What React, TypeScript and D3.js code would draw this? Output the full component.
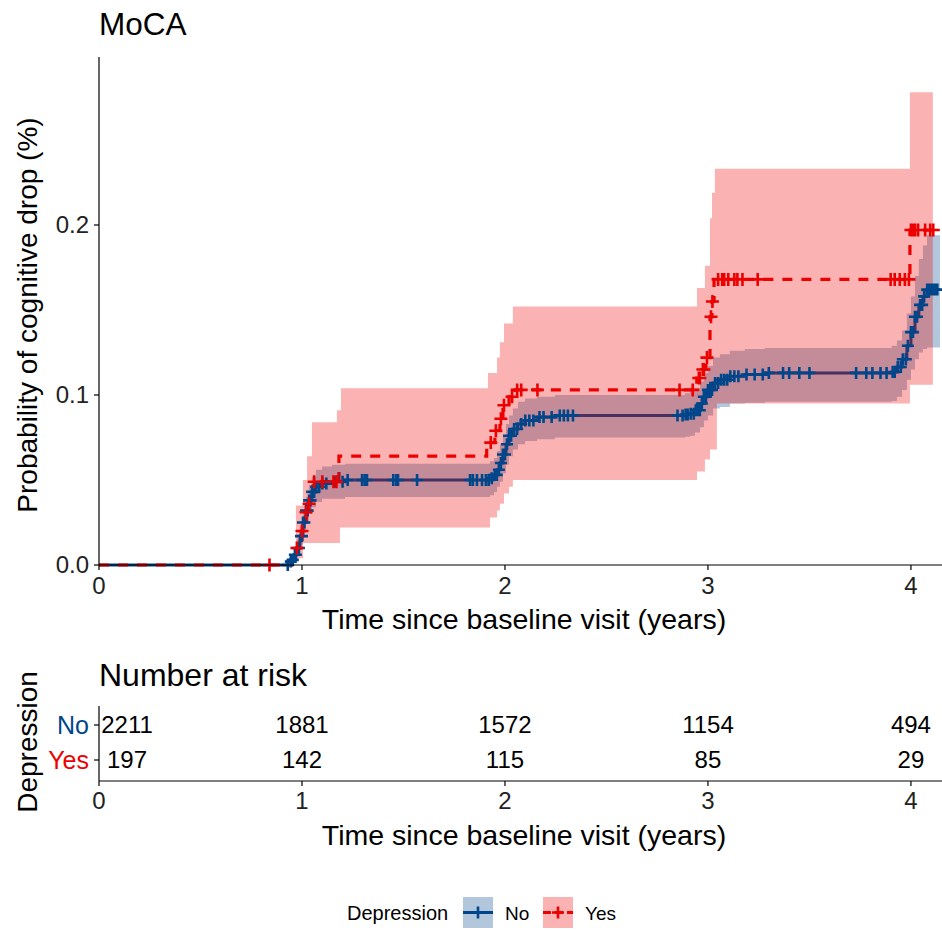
import React from 'react';
import * as d3 from 'd3';

// ---------- DATA ----------
const groups = ['No', 'Yes'];
const colors = ['#00468B', '#ED0000'];

// Group "No": step knots (time, cumulative event prob, lower, upper)
const noTimes = [0, 0.931, 0.946, 0.961, 0.975, 0.99, 1.005, 1.02, 1.034, 1.049, 1.069, 1.099, 1.148, 1.212,
  1.926, 1.946, 1.961, 1.975, 1.99, 2.005, 2.02, 2.039, 2.064, 2.099, 2.158, 2.246,
  2.887, 2.911, 2.936, 2.961, 2.98, 3.0, 3.025, 3.059, 3.108, 3.182, 3.281,
  3.906, 3.931, 3.956, 3.98, 4.0, 4.02, 4.039, 4.059, 4.079];
const noEst = [0, 0.002, 0.003, 0.006, 0.01, 0.017, 0.025, 0.032, 0.038, 0.043, 0.046, 0.048, 0.049, 0.05,
  0.051, 0.053, 0.056, 0.06, 0.065, 0.071, 0.076, 0.08, 0.083, 0.085, 0.087, 0.088,
  0.0885, 0.089, 0.091, 0.095, 0.099, 0.103, 0.107, 0.109, 0.111, 0.112, 0.113,
  0.1135, 0.1165, 0.121, 0.129, 0.137, 0.146, 0.153, 0.158, 0.162];
const noLower = [0, 0.0005, 0.001, 0.003, 0.006, 0.012, 0.019, 0.025, 0.03, 0.034, 0.037, 0.039, 0.039, 0.04,
  0.041, 0.043, 0.046, 0.049, 0.054, 0.059, 0.064, 0.068, 0.071, 0.073, 0.074, 0.075,
  0.0755, 0.076, 0.078, 0.081, 0.085, 0.088, 0.092, 0.093, 0.095, 0.0955, 0.096,
  0.0965, 0.099, 0.103, 0.109, 0.115, 0.121, 0.125, 0.127, 0.128];
const noUpper = [0, 0.004, 0.006, 0.01, 0.015, 0.023, 0.032, 0.04, 0.047, 0.052, 0.056, 0.058, 0.059, 0.0595,
  0.061, 0.063, 0.067, 0.071, 0.076, 0.083, 0.088, 0.092, 0.096, 0.098, 0.099, 0.1,
  0.101, 0.102, 0.104, 0.108, 0.113, 0.117, 0.122, 0.124, 0.126, 0.127, 0.1276,
  0.129, 0.132, 0.138, 0.148, 0.158, 0.17, 0.18, 0.188, 0.194];
const noEnd = 4.143;
const noCensor = [0.93, 0.945, 0.955, 0.965, 0.97, 0.98, 0.985, 0.995, 1.0, 1.005, 1.012, 1.02, 1.028, 1.035,
  1.042, 1.05, 1.06, 1.07, 1.085, 1.1, 1.12, 1.163, 1.2, 1.225, 1.296, 1.31, 1.32, 1.45, 1.465, 1.473, 1.567,
  1.828, 1.842, 1.862, 1.887, 1.906, 1.92, 1.935, 1.95, 1.96, 1.97, 1.98, 1.99, 2.0, 2.01, 2.02, 2.03, 2.045,
  2.06, 2.08, 2.1, 2.12, 2.14, 2.17, 2.19, 2.23, 2.27, 2.29, 2.31, 2.335, 2.85, 2.875,
  2.89, 2.9, 2.915, 2.93, 2.94, 2.95, 2.96, 2.97, 2.98, 2.99, 3.0, 3.01, 3.02, 3.035, 3.05, 3.065, 3.08,
  3.095, 3.11, 3.13, 3.15, 3.19, 3.23, 3.27, 3.3, 3.37, 3.4, 3.45, 3.5, 3.73, 3.78, 3.81, 3.85, 3.88, 3.91,
  3.92, 3.935, 3.95, 3.96, 3.975, 3.985, 4.0, 4.01, 4.02, 4.03, 4.045, 4.055, 4.065,
  4.08, 4.09, 4.1, 4.11, 4.12, 4.13];

// Group "Yes"
const yesTimes = [0, 0.95, 0.975, 0.99, 1.0, 1.01, 1.02, 1.03, 1.04, 1.055, 1.182,
  1.91, 1.95, 1.975, 1.99, 2.02, 2.05, 2.945, 2.97, 2.99, 3.01, 3.02, 3.03, 3.995];
const yesEst = [0, 0.005, 0.01, 0.015, 0.02, 0.026, 0.031, 0.036, 0.041, 0.049, 0.064,
  0.072, 0.079, 0.086, 0.094, 0.099, 0.103, 0.11, 0.115, 0.122, 0.146, 0.155, 0.168, 0.197];
const yesEnd = 4.118;
const yesBandTimes = [0.97, 1.005, 1.025, 1.049, 1.172, 1.187, 1.192, 1.916, 1.926, 1.961, 1.975, 1.995,
  2.02, 2.039, 2.946, 2.985, 3.01, 3.02, 3.034, 3.044, 3.995];
const yesLower = [0.004, 0.013, 0.013, 0.013, 0.013, 0.022, 0.022, 0.022, 0.028, 0.032, 0.036, 0.042,
  0.046, 0.05, 0.055, 0.062, 0.068, 0.068, 0.068, 0.095, 0.106];
const yesUpper = [0.035, 0.05, 0.064, 0.084, 0.091, 0.091, 0.104, 0.113, 0.113, 0.122, 0.131, 0.142,
  0.142, 0.152, 0.163, 0.176, 0.204, 0.219, 0.233, 0.233, 0.278];
const yesBandEnd = 4.108;
const yesCensor = [0.84, 0.975, 1.0, 1.02, 1.035, 1.06, 1.1, 1.155, 1.17,
  1.93, 1.955, 1.98, 1.995, 2.035, 2.06, 2.08, 2.16,
  2.86, 2.925, 2.955, 2.96, 2.975, 2.98, 2.995, 3.015, 3.022,
  3.05, 3.07, 3.08, 3.1, 3.13, 3.145, 3.17, 3.245,
  3.9, 3.92, 3.945, 3.97, 3.99, 4.0, 4.01, 4.02, 4.035, 4.07, 4.095, 4.11];

// Risk table
const riskTimes = [0, 1, 2, 3, 4];
const riskNo = [2211, 1881, 1572, 1154, 494];
const riskYes = [197, 142, 115, 85, 29];

const xTicks = [0, 1, 2, 3, 4];
const yTicks = [0, 0.1, 0.2];

// ---------- HELPERS ----------
const FONT = "'Liberation Sans', Arial, Helvetica, sans-serif";

function stepValue(times: number[], vals: number[], t: number) {
  let v = vals[0];
  for (let i = 0; i < times.length; i++) if (times[i] <= t) v = vals[i];
  return v;
}

export default function App() {
  const W = 942, H = 930;
  const x = d3.scaleLinear().domain([0, 4.153]).range([99, 942]);
  const y = d3.scaleLinear().domain([0, 0.2988]).range([565, 57]);

  const line = d3.line<[number, number]>().x(d => x(d[0])).y(d => y(d[1])).curve(d3.curveStepAfter);
  const area = d3.area<[number, number, number]>()
    .x(d => x(d[0])).y0(d => y(d[1])).y1(d => y(d[2])).curve(d3.curveStepAfter);

  const noLine: [number, number][] = noTimes.map((t, i) => [t, noEst[i]] as [number, number]).concat([[noEnd, noEst[noEst.length - 1]]]);
  const yesLine: [number, number][] = yesTimes.map((t, i) => [t, yesEst[i]] as [number, number]).concat([[yesEnd, yesEst[yesEst.length - 1]]]);
  const noBand: [number, number, number][] = noTimes.slice(1).map((t, i) => [t, noLower[i + 1], noUpper[i + 1]] as [number, number, number])
    .concat([[noEnd, noLower[noLower.length - 1], noUpper[noUpper.length - 1]]]);
  const yesBand: [number, number, number][] = yesBandTimes.map((t, i) => [t, yesLower[i], yesUpper[i]] as [number, number, number])
    .concat([[yesBandEnd, yesLower[yesLower.length - 1], yesUpper[yesUpper.length - 1]]]);

  const plus = (cx: number, cy: number, r: number) => `M${cx - r},${cy}h${2 * r}M${cx},${cy - r}v${2 * r}`;
  const noMarks = noCensor.map(t => plus(x(t), y(stepValue(noTimes, noEst, t)), 6)).join('');
  const yesMarks = yesCensor.map(t => plus(x(t), y(stepValue(yesTimes, yesEst, t)), 6.5)).join('');

  // risk table geometry
  const rowY = [725, 760];
  const riskAxisY = 781;
  const riskRows = [riskNo, riskYes];

  return (
    <svg width={W} height={H} style={{ position: 'absolute', left: 0, top: 0, display: 'block', background: '#fff' }}
      fontFamily={FONT}>
      <rect x={0} y={0} width={W} height={H} fill="#fff" />
      {/* title */}
      <text x={99} y={35} fontSize={31.5} fill="#000">MoCA</text>

      {/* curves */}
      <g>
        <path d={line(noLine) || ''} fill="none" stroke={colors[0]} strokeWidth={3} />
        <path d={line(yesLine) || ''} fill="none" stroke={colors[1]} strokeWidth={3.2} strokeDasharray="10,9" />
        <path d={area(noBand) || ''} fill={colors[0]} fillOpacity={0.3} />
        <path d={area(yesBand) || ''} fill={colors[1]} fillOpacity={0.3} />
        <path d={noMarks} fill="none" stroke={colors[0]} strokeWidth={2.6} />
        <path d={yesMarks} fill="none" stroke={colors[1]} strokeWidth={2.6} />
      </g>

      {/* main axes */}
      <line x1={99} x2={99} y1={57} y2={565} stroke="#000" strokeWidth={1.2} />
      <line x1={99} x2={942} y1={565} y2={565} stroke="#000" strokeWidth={1.2} />
      {yTicks.map(v => (
        <g key={'yt' + v}>
          <line x1={94} x2={99} y1={y(v)} y2={y(v)} stroke="#000" strokeWidth={1.2} />
          <text x={89} y={y(v)} dy="0.35em" textAnchor="end" fontSize={24} fill="#222">{d3.format('.1f')(v)}</text>
        </g>
      ))}
      {xTicks.map(v => (
        <g key={'xt' + v}>
          <line x1={x(v)} x2={x(v)} y1={565} y2={570} stroke="#000" strokeWidth={1.2} />
          <text x={x(v)} y={594} textAnchor="middle" fontSize={24} fill="#222">{v}</text>
        </g>
      ))}
      <text x={524} y={629} textAnchor="middle" fontSize={28.5} fill="#000">Time since baseline visit (years)</text>
      <text transform={`translate(37,315) rotate(-90)`} textAnchor="middle" fontSize={28} fill="#000">Probability of cognitive drop (%)</text>

      {/* risk table */}
      <text x={99} y={686} fontSize={32} fill="#000">Number at risk</text>
      <line x1={99} x2={99} y1={706} y2={riskAxisY} stroke="#000" strokeWidth={1.2} />
      <line x1={99} x2={942} y1={riskAxisY} y2={riskAxisY} stroke="#000" strokeWidth={1.2} />
      {groups.map((g, gi) => (
        <g key={'rg' + g}>
          <line x1={94} x2={99} y1={rowY[gi]} y2={rowY[gi]} stroke="#000" strokeWidth={1.2} />
          <text x={89} y={rowY[gi]} dy="0.35em" textAnchor="end" fontSize={25} fill={colors[gi]}>{g}</text>
          {riskRows[gi].map((n, i) => (
            <text key={i} x={x(riskTimes[i]) + (riskTimes[i] === 0 ? 28 : 0)} y={rowY[gi]} dy="0.35em"
              textAnchor="middle" fontSize={24} fill="#000">{n}</text>
          ))}
        </g>
      ))}
      {xTicks.map(v => (
        <g key={'rxt' + v}>
          <line x1={x(v)} x2={x(v)} y1={riskAxisY} y2={riskAxisY + 5} stroke="#000" strokeWidth={1.2} />
          <text x={x(v)} y={809} textAnchor="middle" fontSize={24} fill="#222">{v}</text>
        </g>
      ))}
      <text x={524} y={845} textAnchor="middle" fontSize={28.5} fill="#000">Time since baseline visit (years)</text>
      <text transform={`translate(37,742) rotate(-90)`} textAnchor="middle" fontSize={28} fill="#000">Depression</text>

      {/* legend */}
      <text x={347} y={920} fontSize={20} fill="#000">Depression</text>
      {groups.map((g, gi) => {
        const kx = gi === 0 ? 463 : 543;
        return (
          <g key={'lg' + g}>
            <rect x={kx} y={897} width={30} height={31} fill={colors[gi]} fillOpacity={0.3} />
            <line x1={kx} x2={kx + 30} y1={912.5} y2={912.5} stroke={colors[gi]} strokeWidth={3}
              strokeDasharray={gi === 1 ? '8,4' : undefined} />
            <path d={plus(kx + 15, 912.5, 6)} stroke={colors[gi]} strokeWidth={2.6} fill="none" />
            <text x={kx + 42} y={920} fontSize={19} fill="#000">{g}</text>
          </g>
        );
      })}
    </svg>
  );
}
